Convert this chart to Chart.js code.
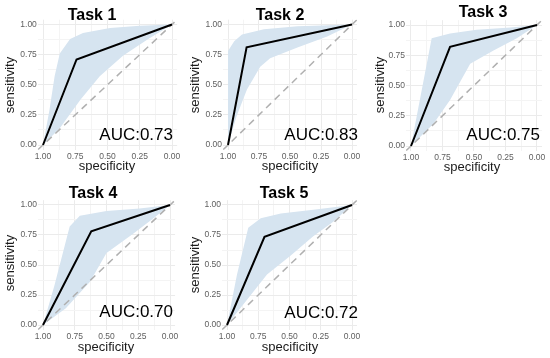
<!DOCTYPE html>
<html lang="en">

<head>
  <meta charset="UTF-8" />
  <title>ROC curves</title>
  <script src="https://cdn.jsdelivr.net/npm/chart.js"></script>
  <style>
    body { margin: 0; background: #ffffff; }
    #page { position: relative; width: 550px; height: 358px; overflow: hidden; }
    .panel { position: absolute; }
  </style>
</head>

<body>
  <div id="page"></div>
</body>

</html>

<script>
  // titles and AUC labels
  const taskNames = ["Task 1", "Task 2", "Task 3", "Task 4", "Task 5"];
  const aucLabels = ["AUC:0.73", "AUC:0.83", "AUC:0.75", "AUC:0.70", "AUC:0.72"];

  // single cut-off point of each ROC curve
  const pointSpec = [0.74, 0.85, 0.69, 0.62, 0.70];
  const pointSens = [0.71, 0.81, 0.82, 0.78, 0.735];

  // confidence band, [specificity, sensitivity]
  const bandUpper = [
    [[1, 0], [0.95, 0.29], [0.91, 0.57], [0.87, 0.76], [0.79, 0.88], [0.69, 0.93], [0.48, 0.97], [0.25, 0.99], [0, 1]],
    [[1, 0], [1, 0.78], [0.95, 0.86], [0.887, 0.917], [0.71, 0.96], [0.44, 0.986], [0, 1]],
    [[1, 0], [0.93, 0.38], [0.836, 0.89], [0.69, 0.93], [0.48, 0.96], [0.21, 0.98], [0, 1]],
    [[1, 0], [0.91, 0.33], [0.79, 0.82], [0.71, 0.91], [0.5, 0.95], [0.24, 0.97], [0, 1]],
    [[1, 0], [0.92, 0.42], [0.83, 0.81], [0.73, 0.89], [0.57, 0.93], [0.31, 0.96], [0, 1]]
  ];
  const bandLower = [
    [[1, 0], [0.87, 0.14], [0.71, 0.375], [0.56, 0.57], [0.38, 0.74], [0.19, 0.875], [0, 1]],
    [[1, 0], [0.93, 0.24], [0.847, 0.46], [0.74, 0.65], [0.66, 0.72], [0.44, 0.81], [0.2, 0.9], [0, 1]],
    [[1, 0], [0.82, 0.185], [0.69, 0.38], [0.53, 0.68], [0.345, 0.79], [0.16, 0.89], [0, 1]],
    [[1, 0], [0.82, 0.14], [0.63, 0.36], [0.5, 0.6], [0.29, 0.76], [0.13, 0.89], [0, 1]],
    [[1, 0], [0.87, 0.17], [0.68, 0.42], [0.49, 0.58], [0.31, 0.74], [0.15, 0.86], [0, 1]]
  ];

  const tickValues = [0, 0.125, 0.25, 0.375, 0.5, 0.625, 0.75, 0.875, 1];
  const expand = 0.04;

  // layout of each panel: box on page, and pixel of value 1 / value 0 on each axis
  const boxes = [
    { x: 0, y: 0, w: 183, h: 176, x1: 43, x0: 172, y1: 24.5, y0: 145 },
    { x: 183, y: 0, w: 183, h: 176, x1: 228, x0: 352, y1: 24.5, y0: 145 },
    { x: 366, y: 0, w: 184, h: 176, x1: 411, x0: 537, y1: 25, y0: 146 },
    { x: 0, y: 176, w: 183, h: 182, x1: 43, x0: 170, y1: 205, y0: 325 },
    { x: 183, y: 176, w: 183, h: 182, x1: 227, x0: 352, y1: 205, y0: 325 }
  ];
  // text positions (page coords)
  const textPos = [
    { tx: 92, ty: 16, sx: 10, sy: 85, px: 107, py: 166, ax: 173, ay: 135 },
    { tx: 280, ty: 16, sx: 195, sy: 85, px: 290, py: 166, ax: 358, ay: 135 },
    { tx: 483, ty: 13, sx: 380, sy: 85, px: 472, py: 167, ax: 540, ay: 135 },
    { tx: 93, ty: 194, sx: 10, sy: 263, px: 106, py: 347, ax: 173, ay: 312 },
    { tx: 284, ty: 194, sx: 195, sy: 265, px: 290, py: 347, ax: 358, ay: 313 }
  ];

  const fontFamily = "'Liberation Sans', Arial, sans-serif";

  function gridColor(ctx) {
    var v = ctx.tick ? ctx.tick.value : 0;
    return Number.isInteger(v * 4) ? "#ebebeb" : "#f4f4f4";
  }

  function criarPainel(i) {
    var b = boxes[i];
    var t = textPos[i];
    var L = b.x1 - expand * (b.x0 - b.x1) - b.x;
    var R = b.x0 + expand * (b.x0 - b.x1) - b.x;
    var T = b.y1 - expand * (b.y0 - b.y1) - b.y;
    var B = b.y0 + expand * (b.y0 - b.y1) - b.y;

    var div = document.createElement("div");
    div.className = "panel";
    div.style.left = b.x + "px";
    div.style.top = b.y + "px";
    var canvas = document.createElement("canvas");
    canvas.width = b.w;
    canvas.height = b.h;
    div.appendChild(canvas);
    document.getElementById("page").appendChild(div);

    var band = bandUpper[i].concat(bandLower[i].slice().reverse()).map(function (p) {
      return { x: p[0], y: p[1] };
    });
    var roc = [
      { x: 1, y: 0 },
      { x: pointSpec[i], y: pointSens[i] },
      { x: 0, y: 1 }
    ];
    var chanceSpec = [1 + expand, -expand];
    var chance = chanceSpec.map(function (s) { return { x: s, y: 1 - s }; });

    var textos = {
      id: "textos",
      afterDraw: function (chart) {
        var c = chart.ctx;
        c.save();
        c.fillStyle = "#000000";
        c.textAlign = "center";
        c.textBaseline = "middle";
        c.font = "bold 16px " + fontFamily;
        c.fillText(taskNames[i], t.tx - b.x, t.ty - b.y);

        c.fillStyle = "#1a1a1a";
        c.font = "13px " + fontFamily;
        c.fillText("specificity", t.px - b.x, t.py - b.y);
        c.save();
        c.translate(t.sx - b.x, t.sy - b.y);
        c.rotate(-Math.PI / 2);
        c.fillText("sensitivity", 0, 0);
        c.restore();

        c.fillStyle = "#000000";
        c.textAlign = "right";
        c.font = "17px " + fontFamily;
        c.fillText(aucLabels[i], t.ax - b.x, t.ay - b.y);
        c.restore();
      }
    };

    new Chart(canvas, {
      type: "scatter",
      data: {
        datasets: [
          {
            data: roc,
            showLine: true,
            borderColor: "#000000",
            borderWidth: 2,
            pointRadius: 0,
            fill: false
          },
          {
            data: chance,
            showLine: true,
            borderColor: "#b0b0b0",
            borderWidth: 1.5,
            borderDash: [7, 5],
            pointRadius: 0,
            fill: false
          },
          {
            data: band,
            showLine: true,
            borderWidth: 0,
            borderColor: "rgba(0,0,0,0)",
            backgroundColor: "#d6e4f0",
            pointRadius: 0,
            fill: "shape"
          }
        ]
      },
      options: {
        responsive: false,
        animation: false,
        layout: {
          padding: { left: 0, top: T, right: b.w - R, bottom: 0 }
        },
        plugins: {
          legend: { display: false },
          title: { display: false },
          tooltip: { enabled: false }
        },
        scales: {
          x: {
            type: "linear",
            reverse: true,
            min: -expand,
            max: 1 + expand,
            border: { display: false },
            grid: { color: gridColor, drawTicks: false },
            afterBuildTicks: function (scale) {
              scale.ticks = tickValues.map(function (v) { return { value: v }; });
            },
            afterFit: function (scale) { scale.height = b.h - B; },
            ticks: {
              autoSkip: false,
              maxRotation: 0,
              padding: 1.5,
              color: "#606060",
              font: { size: 8.5, family: fontFamily },
              callback: function (v) { return Number.isInteger(v * 4) ? v.toFixed(2) : ""; }
            }
          },
          y: {
            type: "linear",
            min: -expand,
            max: 1 + expand,
            border: { display: false },
            grid: { color: gridColor, drawTicks: false },
            afterBuildTicks: function (scale) {
              scale.ticks = tickValues.map(function (v) { return { value: v }; });
            },
            afterFit: function (scale) { scale.width = L; },
            ticks: {
              autoSkip: false,
              padding: 1,
              color: "#606060",
              font: { size: 8.5, family: fontFamily },
              callback: function (v) { return Number.isInteger(v * 4) ? v.toFixed(2) : ""; }
            }
          }
        }
      },
      plugins: [textos]
    });
  }

  for (var i = 0; i < taskNames.length; i++) {
    criarPainel(i);
  }
</script>
